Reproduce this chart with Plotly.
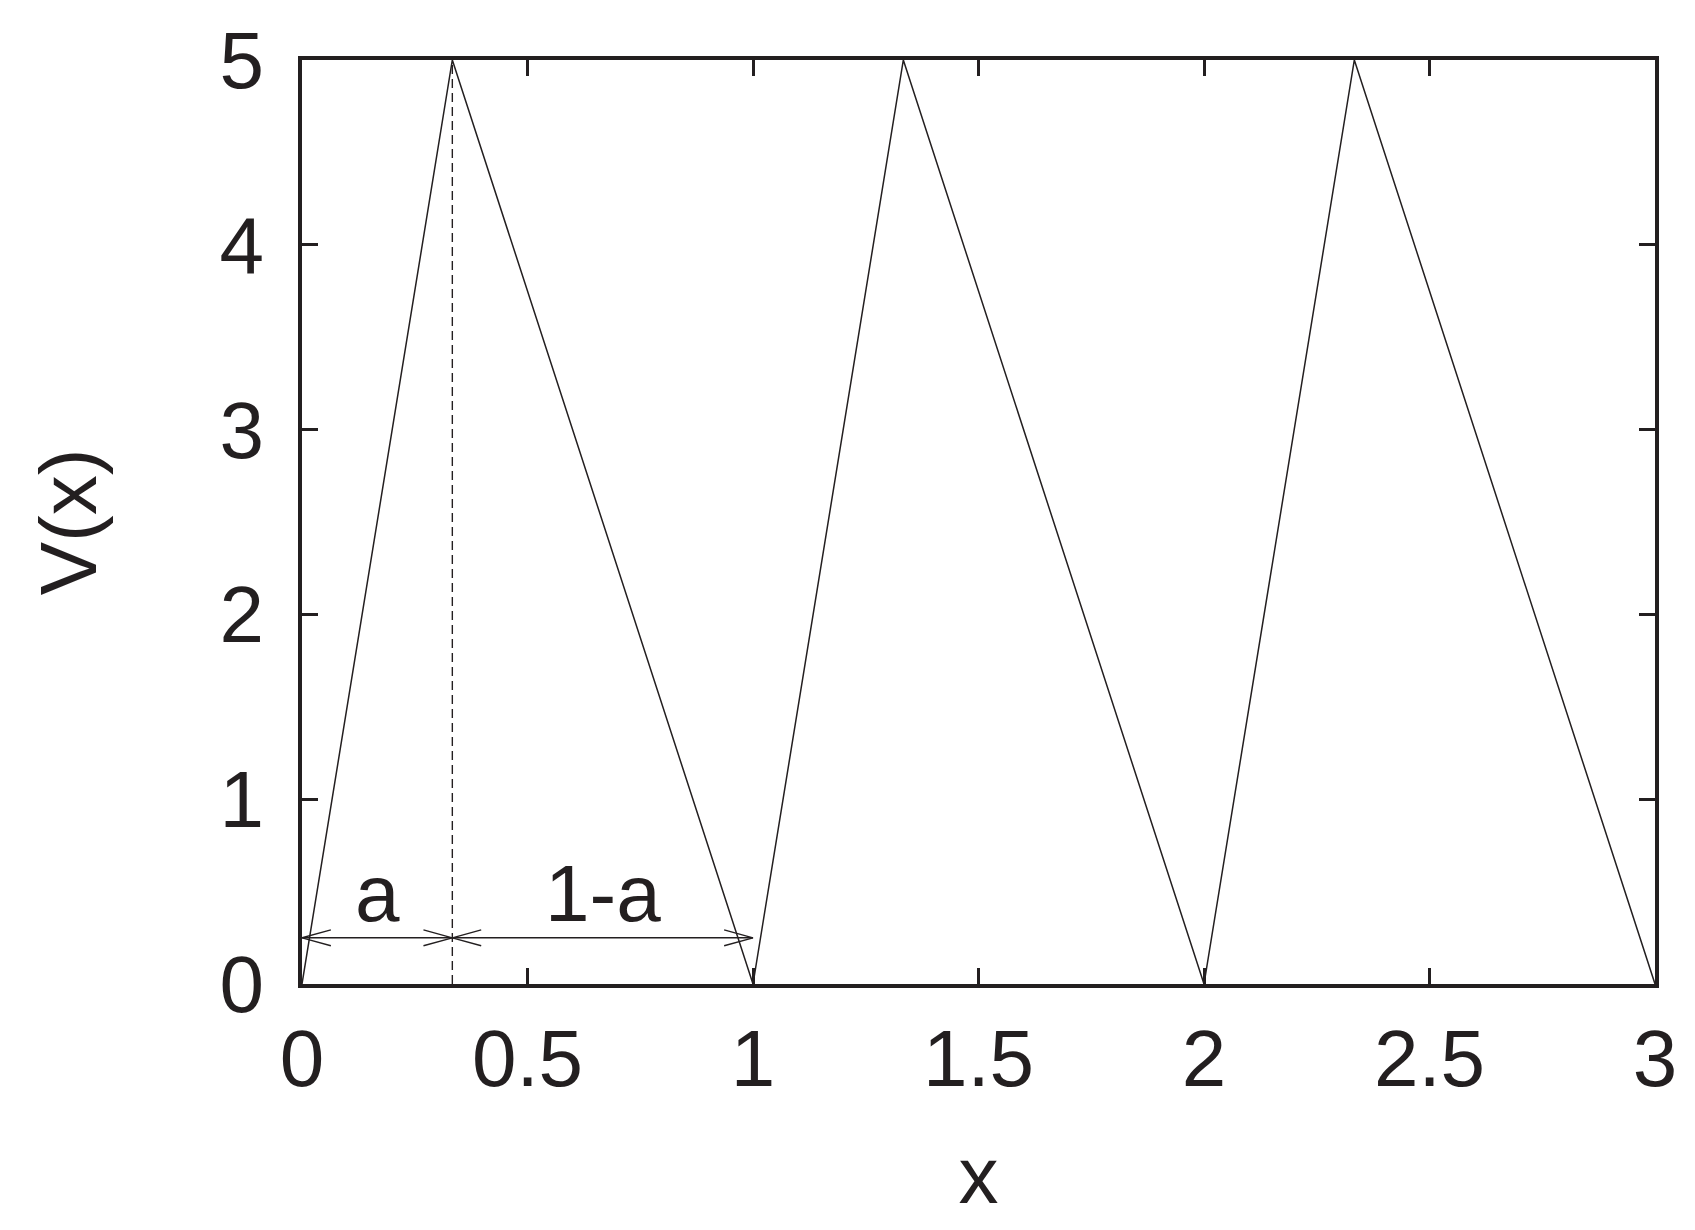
import plotly.graph_objects as go

# Data
a = 1/3
x_pts = [0, 1/3, 1, 4/3, 2, 7/3, 3]
v_pts = [0, 5, 0, 5, 0, 5, 0]
x_ticks = [0, 0.5, 1, 1.5, 2, 2.5, 3]
x_ticklabels = ["0", "0.5", "1", "1.5", "2", "2.5", "3"]
y_ticks = [0, 1, 2, 3, 4, 5]
arrow_y = 0.25
labels = ["a", "1-a"]

INK = "#231f20"
FONT = "Liberation Sans, Arial, Helvetica, sans-serif"

fig = go.Figure()

# Potential
fig.add_trace(go.Scatter(x=x_pts, y=v_pts, mode="lines",
                         line=dict(color=INK, width=1.5), showlegend=False, hoverinfo="skip"))
# Dashed vertical at x=a
fig.add_trace(go.Scatter(x=[a, a], y=[0, max(v_pts)], mode="lines",
                         line=dict(color=INK, width=1.4, dash="9px,5px"), showlegend=False, hoverinfo="skip"))

# Double arrows (open heads)
hl = 0.064   # head length in x units
hw = 0.043   # half-width in y units
segs = [(0, a), (a, 1)]
ax, ay = [], []
for (x0, x1) in segs:
    ax += [x0, x1, None]
    ay += [arrow_y, arrow_y, None]
    ax += [x0 + hl, x0, x0 + hl, None]
    ay += [arrow_y + hw, arrow_y, arrow_y - hw, None]
    ax += [x1 - hl, x1, x1 - hl, None]
    ay += [arrow_y + hw, arrow_y, arrow_y - hw, None]
fig.add_trace(go.Scatter(x=ax, y=ay, mode="lines",
                         line=dict(color=INK, width=1.4), showlegend=False, hoverinfo="skip"))

for (x0, x1), lab in zip(segs, labels):
    fig.add_annotation(x=(x0 + x1) / 2, y=arrow_y, text=lab, showarrow=False,
                       yanchor="bottom", yshift=-2,
                       font=dict(family=FONT, size=80, color=INK))

axis_common = dict(showline=True, linewidth=4, linecolor=INK, mirror="allticks",
                   ticks="inside", ticklen=16, tickwidth=2.5, tickcolor=INK,
                   showgrid=False, zeroline=False, automargin=False,
                   tickfont=dict(family=FONT, size=80, color=INK),
                   title_font=dict(family=FONT, size=80, color=INK))

fig.update_xaxes(range=[0, 3], tickvals=x_ticks, ticktext=x_ticklabels,
                 ticklabelstandoff=2, title=dict(text="x", standoff=46), **axis_common)
fig.update_yaxes(range=[0, 5], tickvals=y_ticks,
                 ticklabelstandoff=18, title=dict(text="V(x)", standoff=98), **axis_common)

fig.update_layout(width=1695, height=1230,
                  margin=dict(l=294, r=48, t=52, b=254),
                  plot_bgcolor="white", paper_bgcolor="white")

fig.write_html("out.html")
